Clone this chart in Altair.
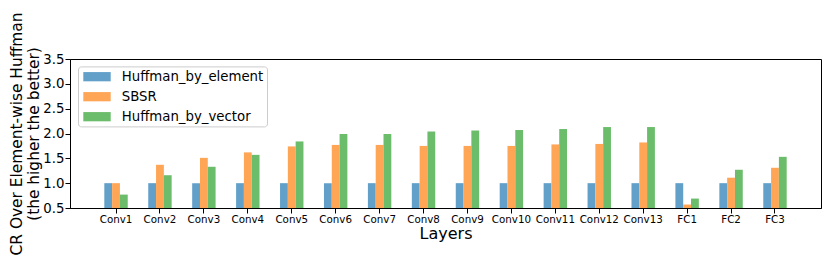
import altair as alt
import pandas as pd

layers = ["Conv1", "Conv2", "Conv3", "Conv4", "Conv5", "Conv6", "Conv7", "Conv8",
          "Conv9", "Conv10", "Conv11", "Conv12", "Conv13", "FC1", "FC2", "FC3"]
series = ["Huffman_by_element", "SBSR", "Huffman_by_vector"]
huffman_by_element = [1.00, 1.00, 1.00, 1.00, 1.00, 1.00, 1.00, 1.00,
                      1.00, 1.00, 1.00, 1.00, 1.00, 1.00, 1.00, 1.00]
sbsr = [1.00, 1.37, 1.51, 1.62, 1.74, 1.77, 1.77, 1.75,
        1.75, 1.75, 1.78, 1.79, 1.82, 0.57, 1.11, 1.31]
huffman_by_vector = [0.77, 1.16, 1.33, 1.57, 1.84, 1.99, 1.99, 2.04,
                     2.06, 2.07, 2.09, 2.13, 2.13, 0.69, 1.27, 1.53]
colors = ["#62a0ca", "#ffa556", "#6bbc6b"]
y_ticks = [0.5, 1.0, 1.5, 2.0, 2.5, 3.0, 3.5]

rows = []
for name, vals in zip(series, [huffman_by_element, sbsr, huffman_by_vector]):
    for layer, v in zip(layers, vals):
        rows.append({"layer": layer, "series": name, "value": v})
df = pd.DataFrame(rows)

chart = alt.Chart(df).mark_bar().encode(
    x=alt.X("layer:N", sort=layers,
            scale=alt.Scale(paddingInner=0.467, paddingOuter=0.781),
            axis=alt.Axis(title="Layers", labelAngle=0, labelFontSize=10.3,
                          labelPadding=1, tickSize=5, titleFontSize=16,
                          titlePadding=1)),
    xOffset=alt.XOffset("series:N", sort=series,
                        scale=alt.Scale(paddingInner=0, paddingOuter=0)),
    y=alt.Y("value:Q", scale=alt.Scale(domain=[0.5, 3.5], nice=False, zero=False),
            axis=alt.Axis(values=y_ticks, format=".1f", labelFontSize=13.3,
                          tickSize=5, labelPadding=1, grid=False,
                          title=["CR Over Element-wise Huffman", "(the higher the better)"],
                          titleFontSize=15.4, titleLineHeight=17.5,
                          titleFontWeight="normal", titleAngle=270,
                          titleX=-49, titleY=74.5, titleAlign="center",
                          titleBaseline="alphabetic")),
    y2=alt.datum(0.5),
    color=alt.Color("series:N", sort=series,
                    scale=alt.Scale(domain=series, range=colors),
                    legend=alt.Legend(title=None, orient="none", legendX=8, legendY=7.4,
                                      symbolType="M-0.714,-0.66H3.2V0.66H-0.714Z",
                                      symbolSize=196, symbolStrokeWidth=0,
                                      symbolOpacity=1, labelOffset=26.4,
                                      rowPadding=6, padding=3.3,
                                      strokeColor="#cccccc", fillColor="white",
                                      cornerRadius=3, labelFontSize=13.3,
                                      labelColor="black")),
).properties(
    width=751, height=149,
    autosize=alt.AutoSizeParams(type="none"),
    padding={"left": 62, "top": 51, "right": 2, "bottom": 60},
).configure(
    font="DejaVu Sans",
).configure_view(
    stroke="black", strokeWidth=1,
).configure_axis(
    domainColor="black", tickColor="black", labelColor="black",
    titleColor="black", domainWidth=1, tickWidth=1,
).configure_axisX(
    titleFontWeight="normal",
)

chart.save("out.html", embed_options={"renderer": "svg", "actions": False})
